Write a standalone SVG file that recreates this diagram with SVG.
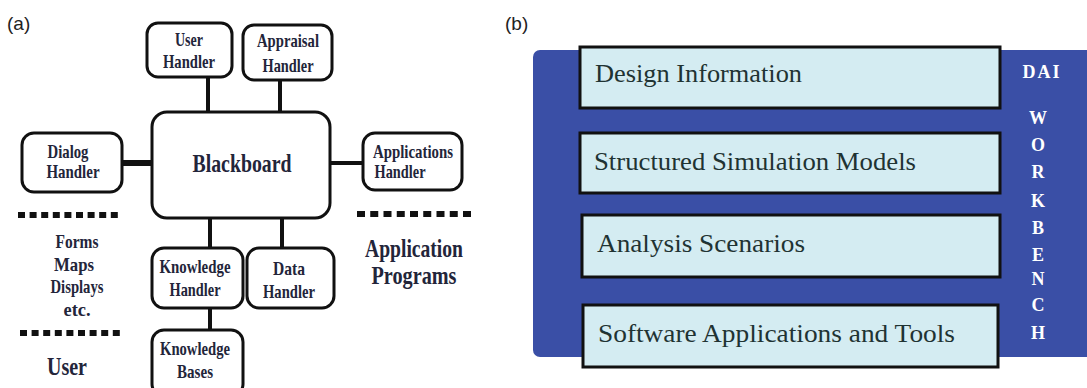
<svg xmlns="http://www.w3.org/2000/svg" width="1087" height="388" viewBox="0 0 1087 388">
<style>
.box{fill:#fff;stroke:#111;stroke-width:3}
.con{stroke:#111;stroke-width:4;fill:none}
.dot{stroke:#111;stroke-width:6;fill:none}
.lbl{font-family:"Liberation Serif",serif;font-weight:bold;font-size:19px;fill:#23253a;text-anchor:middle}
.big{font-family:"Liberation Serif",serif;font-weight:bold;font-size:25px;fill:#23253a;text-anchor:middle}
.tag{font-family:"Liberation Sans",Arial,sans-serif;font-size:19px;fill:#222}
.layer{fill:#d4ecf2;stroke:#111;stroke-width:3}
.lt{font-family:"Liberation Serif",serif;font-size:25px;fill:#1f3333}
.wb{font-family:"Liberation Serif",serif;font-weight:bold;font-size:18px;fill:#fff;text-anchor:middle}
</style>
<rect width="1087" height="388" fill="#fff"/>
<text class="tag" x="7" y="30">(a)</text>
<text class="tag" x="505" y="30">(b)</text>

<g id="connectors">
<line class="con" x1="208" y1="77" x2="208" y2="112"/>
<line class="con" x1="280" y1="80" x2="280" y2="112"/>
<line class="con" x1="122" y1="163" x2="152" y2="163" style="stroke-width:6"/>
<line class="con" x1="330" y1="163" x2="363" y2="163"/>
<line class="con" x1="210" y1="218" x2="210" y2="248"/>
<line class="con" x1="282" y1="218" x2="282" y2="248"/>
<line class="con" x1="210" y1="308" x2="210" y2="330"/>
</g>

<g id="blackboard">
<rect class="box" x="152" y="112" width="178" height="106" rx="15"/>
<text class="big" x="242" y="172" textLength="99" lengthAdjust="spacingAndGlyphs">Blackboard</text>
</g>
<g id="user-handler">
<rect class="box" x="147" y="23" width="85" height="54" rx="11"/>
<text class="lbl" x="189" y="46" textLength="28" lengthAdjust="spacingAndGlyphs">User</text>
<text class="lbl" x="189" y="68" textLength="52" lengthAdjust="spacingAndGlyphs">Handler</text>
</g>
<g id="appraisal-handler">
<rect class="box" x="243" y="25" width="89" height="55" rx="11"/>
<text class="lbl" x="288" y="47" textLength="62" lengthAdjust="spacingAndGlyphs">Appraisal</text>
<text class="lbl" x="288" y="72" textLength="51" lengthAdjust="spacingAndGlyphs">Handler</text>
</g>
<g id="dialog-handler">
<rect class="box" x="22" y="133" width="100" height="59" rx="12"/>
<text class="lbl" x="68" y="158" textLength="41" lengthAdjust="spacingAndGlyphs">Dialog</text>
<text class="lbl" x="73" y="178" textLength="53" lengthAdjust="spacingAndGlyphs">Handler</text>
</g>
<g id="applications-handler">
<rect class="box" x="363" y="133" width="99" height="57" rx="12"/>
<text class="lbl" x="413" y="158" textLength="80" lengthAdjust="spacingAndGlyphs">Applications</text>
<text class="lbl" x="400" y="178" textLength="51" lengthAdjust="spacingAndGlyphs">Handler</text>
</g>
<g id="knowledge-handler">
<rect class="box" x="152" y="248" width="91" height="60" rx="12"/>
<text class="lbl" x="195" y="273" textLength="71" lengthAdjust="spacingAndGlyphs">Knowledge</text>
<text class="lbl" x="195" y="296" textLength="51" lengthAdjust="spacingAndGlyphs">Handler</text>
</g>
<g id="data-handler">
<rect class="box" x="247" y="248" width="87" height="60" rx="12"/>
<text class="lbl" x="289" y="275" textLength="32" lengthAdjust="spacingAndGlyphs">Data</text>
<text class="lbl" x="289" y="298" textLength="52" lengthAdjust="spacingAndGlyphs">Handler</text>
</g>
<g id="knowledge-bases">
<rect class="box" x="152" y="330" width="91" height="66" rx="12"/>
<text class="lbl" x="195" y="355" textLength="70" lengthAdjust="spacingAndGlyphs">Knowledge</text>
<text class="lbl" x="195" y="378" textLength="36" lengthAdjust="spacingAndGlyphs">Bases</text>
</g>

<g id="user-side">
<line class="dot" x1="18" y1="215" x2="118" y2="215" stroke-dasharray="7 4.6"/>
<text class="lbl" x="77" y="248" textLength="43" lengthAdjust="spacingAndGlyphs">Forms</text>
<text class="lbl" x="74" y="271" textLength="40" lengthAdjust="spacingAndGlyphs">Maps</text>
<text class="lbl" x="77" y="293" textLength="53" lengthAdjust="spacingAndGlyphs">Displays</text>
<text class="lbl" x="77" y="316" textLength="27" lengthAdjust="spacingAndGlyphs">etc.</text>
<line class="dot" x1="20" y1="333" x2="120" y2="333" stroke-dasharray="7 4.6"/>
<text class="big" x="67" y="375" textLength="40" lengthAdjust="spacingAndGlyphs">User</text>
</g>
<g id="application-programs">
<line class="dot" x1="357" y1="214" x2="471" y2="214" stroke-dasharray="8 5.25"/>
<text class="big" x="414" y="257" textLength="98" lengthAdjust="spacingAndGlyphs">Application</text>
<text class="big" x="414" y="284" textLength="85" lengthAdjust="spacingAndGlyphs">Programs</text>
</g>

<g id="workbench">
<rect x="533" y="50" width="570" height="307" rx="7" fill="#3a4fa6"/>
<text class="wb" x="1042" y="78" style="letter-spacing:2px">DAI</text>
<text class="wb" x="1038" y="124">W</text>
<text class="wb" x="1038" y="151">O</text>
<text class="wb" x="1038" y="178">R</text>
<text class="wb" x="1038" y="207">K</text>
<text class="wb" x="1038" y="234">B</text>
<text class="wb" x="1038" y="261">E</text>
<text class="wb" x="1038" y="285">N</text>
<text class="wb" x="1038" y="311">C</text>
<text class="wb" x="1038" y="339">H</text>
</g>
<g id="design-information">
<rect class="layer" x="580" y="47" width="420" height="61"/>
<text class="lt" x="595" y="82" textLength="207" lengthAdjust="spacingAndGlyphs">Design Information</text>
</g>
<g id="structured-simulation-models">
<rect class="layer" x="580" y="133" width="420" height="60"/>
<text class="lt" x="594" y="170" textLength="322" lengthAdjust="spacingAndGlyphs">Structured Simulation Models</text>
</g>
<g id="analysis-scenarios">
<rect class="layer" x="582" y="215" width="418" height="62"/>
<text class="lt" x="597" y="252" textLength="208" lengthAdjust="spacingAndGlyphs">Analysis Scenarios</text>
</g>
<g id="software-applications">
<rect class="layer" x="583" y="305" width="415" height="62"/>
<text class="lt" x="598" y="342" textLength="357" lengthAdjust="spacingAndGlyphs">Software Applications and Tools</text>
</g>
</svg>
